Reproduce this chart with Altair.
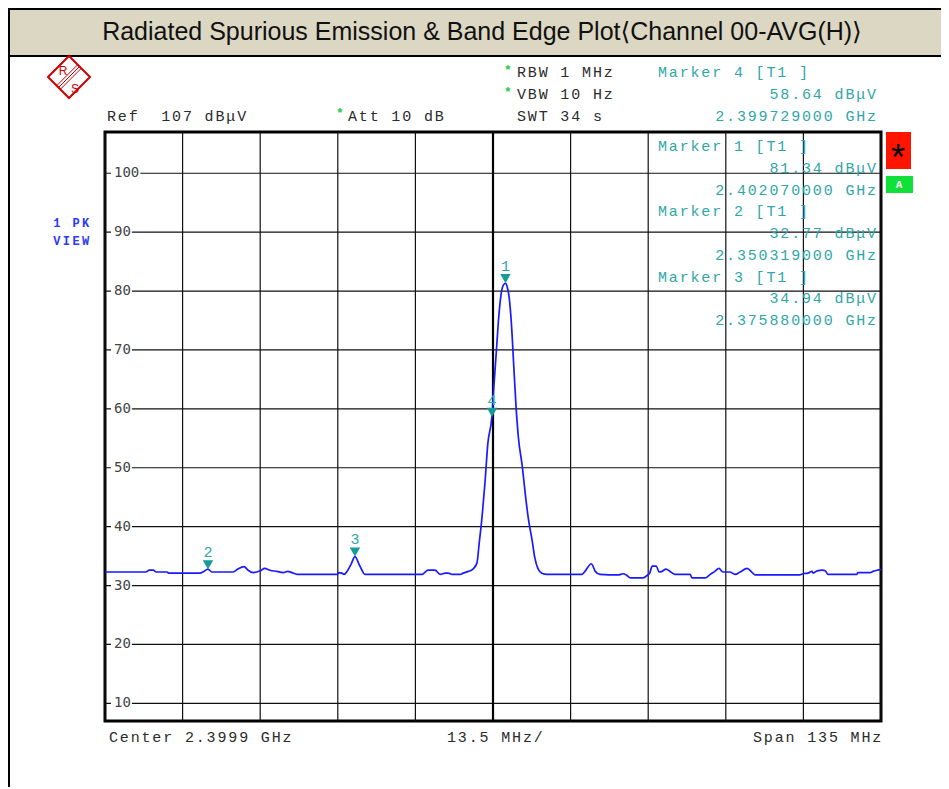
import altair as alt
import pandas as pd

# ---------------- values ----------------
TITLE = "Radiated Spurious Emission & Band Edge Plot⟨Channel 00-AVG(H)⟩"

FREQ_MHZ = [
    2332.4, 2339.5, 2340.1, 2340.8, 2341.3, 2343.2, 2343.5, 2348.9, 2349.6, 2350.3,
    2351.0, 2354.7, 2355.5, 2356.6, 2357.3, 2358.2, 2359.4, 2360.2, 2361.1, 2362.3,
    2363.4, 2364.2, 2364.9, 2365.8, 2372.8, 2373.1, 2373.6, 2374.0, 2374.5, 2375.2,
    2375.9, 2376.6, 2377.1, 2377.6, 2387.6, 2387.9, 2388.6, 2389.8, 2390.7, 2391.6,
    2392.1, 2392.8, 2394.2, 2394.7, 2395.6, 2396.4, 2397.1, 2397.5, 2398.0, 2398.5,
    2399.0, 2399.7, 2400.1, 2400.5, 2400.9, 2401.3, 2401.7, 2402.1, 2402.4, 2402.7,
    2403.1, 2403.5, 2403.9, 2404.3, 2405.0, 2405.5, 2406.0, 2406.7, 2407.2, 2407.7,
    2408.4, 2409.3, 2415.4, 2415.9,
    2417.0, 2417.7, 2418.5, 2421.7, 2422.5, 2423.1, 2423.8, 2426.0, 2426.7, 2427.2,
    2427.6, 2428.3, 2428.8, 2429.3, 2430.0, 2430.7, 2431.6, 2434.2, 2434.5, 2436.8,
    2437.7, 2438.5, 2439.2, 2439.9, 2441.1, 2442.0, 2442.9, 2444.1, 2445.0, 2445.5,
    2453.3, 2453.8, 2454.7, 2455.4, 2455.6, 2456.3, 2457.2, 2457.7, 2458.2, 2463.2,
    2463.4, 2465.5, 2466.0, 2466.7, 2467.4,
]
LEVEL_DBUV = [
    32.3, 32.3, 32.6, 32.6, 32.3, 32.3, 32.1, 32.1, 32.4, 32.8,
    32.3, 32.3, 32.8, 33.2, 32.6, 32.2, 32.5, 32.9, 32.6, 32.4,
    32.2, 32.4, 32.2, 31.9, 31.9, 32.2, 32.1, 31.9, 32.4, 33.6,
    34.9, 33.6, 32.6, 31.9, 31.9, 32.1, 32.6, 32.6, 31.9, 32.1,
    32.1, 31.9, 31.9, 32.1, 32.4, 32.8, 33.8, 37.2, 41.7, 47.4,
    54.1, 58.6, 64.5, 70.0, 75.6, 79.4, 81.0, 81.3, 80.6, 79.0,
    74.5, 67.5, 60.5, 55.3, 50.2, 45.7, 41.7, 37.7, 34.6, 32.9,
    32.1, 31.9, 31.9, 32.4,
    33.7, 32.4, 31.9, 31.8, 32.0, 31.8, 31.3, 31.3, 31.7, 32.2,
    33.3, 33.3, 32.3, 32.4, 32.8, 32.4, 31.9, 31.9, 31.3, 31.3,
    31.9, 32.4, 32.9, 32.3, 32.3, 31.9, 32.3, 32.9, 32.2, 31.8,
    31.8, 32.0, 32.1, 32.4, 32.1, 32.5, 32.6, 32.5, 31.9, 31.9,
    32.2, 32.2, 32.4, 32.6, 32.7,
]

MARKER_ID = [1, 2, 3, 4]
MARKER_FREQ_GHZ = [2.402070, 2.350319, 2.375880, 2.399729]
MARKER_LEVEL_DBUV = [81.34, 32.77, 34.94, 58.64]

Y_GRID = [10, 20, 30, 40, 50, 60, 70, 80, 90, 100]
REF_LEVEL = 107
CENTER_GHZ = 2.3999
SPAN_MHZ = 135
RBW = "1 MHz"
VBW = "10 Hz"
SWT = "34 s"
ATT = "10 dB"

# ---------------- derived ----------------
X_LO = CENTER_GHZ * 1000 - SPAN_MHZ / 2
X_HI = CENTER_GHZ * 1000 + SPAN_MHZ / 2
X_GRID = [X_LO + SPAN_MHZ / 10 * k for k in range(11)]
Y_LO = REF_LEVEL - 100

W, H = 776, 589
OX, OY = 105, 132          # page position of plot origin
PITCH = 10.85

DARK = "#2b2b2b"
TEAL = "#2fa7a7"
TEAL_M = "#169a9a"
BLUE = "#1a1aff"
GREEN = "#22cc44"

xs = alt.Scale(domain=[X_LO, X_HI], nice=False, zero=False)
ys = alt.Scale(domain=[Y_LO, REF_LEVEL], nice=False, zero=False)

trace = pd.DataFrame({"f": FREQ_MHZ, "lvl": LEVEL_DBUV})
markers = pd.DataFrame({"id": [str(i) for i in MARKER_ID],
                        "f": [g * 1000 for g in MARKER_FREQ_GHZ],
                        "lvl": MARKER_LEVEL_DBUV})

# ---------------- fixed-pitch text ----------------
chars = []


def put(s, x, y, color, right=False, pitch=PITCH, group="main"):
    x0 = x - len(s) * pitch if right else x
    for i, c in enumerate(s):
        if c != " ":
            chars.append(dict(ch=c, px=x0 + (i + 0.5) * pitch - OX, py=y - OY,
                              col=color, g=group))


put(f"RBW {RBW}", 516, 72, DARK)
put(f"VBW {VBW}", 516, 94, DARK)
put(f"SWT {SWT}", 516, 116, DARK)
put(f"Ref  {REF_LEVEL} dBμV", 106, 116, DARK)
put(f"Att {ATT}", 347, 116, DARK)
put(f"Center {CENTER_GHZ} GHz", 108, 737, DARK)
put(f"{SPAN_MHZ / 10} MHz/", 446, 737, DARK)
put(f"Span {SPAN_MHZ} MHz", 752, 737, DARK)


def readout(k, ys3):
    put(f"Marker {MARKER_ID[k]} [T1 ]", 657, ys3[0], TEAL)
    put(f"{MARKER_LEVEL_DBUV[k]:.2f} dBμV", 877, ys3[1], TEAL, right=True)
    put(f"{MARKER_FREQ_GHZ[k]:.9f} GHz", 877, ys3[2], TEAL, right=True)


readout(3, [72, 94, 116])
rows = [146 + 21.75 * i for i in range(9)]
readout(0, rows[0:3])
readout(1, rows[3:6])
readout(2, rows[6:9])

put("1 PK", 52, 223, "#2a3af0", pitch=9.6, group="bold")
put("VIEW", 52, 241, "#2a3af0", pitch=9.6, group="bold")

chars_df = pd.DataFrame(chars)

# ---------------- layers ----------------
one = pd.DataFrame({"k": [0]})

vgrid = alt.Chart(pd.DataFrame({"g": X_GRID})).mark_rule(
    color="#111111", strokeWidth=1.2
).encode(x=alt.X("g:Q", scale=xs, axis=None), y=alt.value(0), y2=alt.value(H))

hgrid = alt.Chart(pd.DataFrame({"g": Y_GRID})).mark_rule(
    color="#111111", strokeWidth=1.2
).encode(y=alt.Y("g:Q", scale=ys, axis=None), x=alt.value(0), x2=alt.value(W))

center_rule = alt.Chart(pd.DataFrame({"c": [CENTER_GHZ * 1000]})).mark_rule(
    color="#000000", strokeWidth=2.2
).encode(x=alt.X("c:Q", scale=xs, axis=None), y=alt.value(0), y2=alt.value(H))

ylab_df = pd.DataFrame({"v": Y_GRID, "lab": [str(v) for v in Y_GRID]})
ylab_bg = alt.Chart(ylab_df).transform_calculate(
    lo="datum.v - 1.0", hi="datum.v + 1.0", xs0="6",
    xe="9 + 8.45 * length(datum.lab) + 1"
).mark_rect(color="white").encode(
    x=alt.X("xs0:Q", scale=None), x2="xe:Q",
    y=alt.Y("lo:Q", scale=ys, axis=None), y2="hi:Q",
)
ylab = alt.Chart(ylab_df).mark_text(
    font="DejaVu Sans Mono", fontSize=14, color="#444444", align="left",
    baseline="middle"
).encode(x=alt.value(9), y=alt.Y("v:Q", scale=ys, axis=None), text="lab:N")

line = alt.Chart(trace).mark_line(
    color=BLUE, strokeWidth=1.7, interpolate="monotone"
).encode(
    x=alt.X("f:Q", scale=xs, axis=None), y=alt.Y("lvl:Q", scale=ys, axis=None)
)

mk = alt.Chart(markers).mark_point(
    shape="triangle-down", filled=True, size=110, color=TEAL_M, opacity=1, yOffset=-4.5
).encode(x=alt.X("f:Q", scale=xs, axis=None), y=alt.Y("lvl:Q", scale=ys, axis=None))

mk_lab = alt.Chart(markers).mark_text(
    font="Liberation Mono", fontSize=15, color=TEAL, dy=-17, baseline="middle"
).encode(x=alt.X("f:Q", scale=xs, axis=None), y=alt.Y("lvl:Q", scale=ys, axis=None),
         text="id:N")

txt = alt.Chart(chars_df).transform_filter("datum.g == 'main'").mark_text(
    font="Liberation Mono", fontSize=15, align="center", baseline="middle"
).encode(x=alt.X("px:Q", scale=None), y=alt.Y("py:Q", scale=None), text="ch:N",
         color=alt.Color("col:N", scale=None))

txt_b = alt.Chart(chars_df).transform_filter("datum.g == 'bold'").mark_text(
    font="Liberation Mono", fontSize=12, fontWeight="bold", align="center",
    baseline="middle"
).encode(x=alt.X("px:Q", scale=None), y=alt.Y("py:Q", scale=None), text="ch:N",
         color=alt.Color("col:N", scale=None))

stars = alt.Chart(pd.DataFrame({"px": [508 - OX, 508 - OX, 340 - OX],
                                "py": [70 - OY, 92 - OY, 113 - OY]})).mark_text(
    text="*", font="Liberation Mono", fontSize=13, fontWeight="bold", color=GREEN,
    baseline="middle"
).encode(x=alt.X("px:Q", scale=None), y=alt.Y("py:Q", scale=None))

# frame decorations
title_bar = alt.Chart(one).mark_rect(fill="#dcd7c3", stroke="#000000", strokeWidth=2).encode(
    x=alt.value(9 - OX), x2=alt.value(950 - OX), y=alt.value(9 - OY), y2=alt.value(56 - OY)
)
left_border = alt.Chart(one).mark_rule(color="#000000", strokeWidth=2).encode(
    x=alt.value(9 - OX), y=alt.value(9 - OY), y2=alt.value(800 - OY)
)
title = alt.Chart(one).mark_text(
    text=TITLE, font="Liberation Sans, DejaVu Sans", fontSize=25, color="#111111",
    align="center", baseline="middle"
).encode(x=alt.value(482 - OX), y=alt.value(32 - OY))

boxes = alt.Chart(pd.DataFrame({
    "x": [886 - OX, 886 - OX], "x2": [911 - OX, 913 - OX],
    "y": [132 - OY, 176 - OY], "y2": [169 - OY, 193 - OY],
    "c": ["#ff1400", "#11e03a"]})).mark_rect().encode(
    x=alt.X("x:Q", scale=None), x2="x2:Q", y=alt.Y("y:Q", scale=None), y2="y2:Q",
    color=alt.Color("c:N", scale=None)
)
star_big = alt.Chart(one).mark_text(
    text="*", font="Liberation Sans", fontSize=36, color="#000000", baseline="middle"
).encode(x=alt.value(898 - OX), y=alt.value(159 - OY))
a_lab = alt.Chart(one).mark_text(
    text="A", font="Liberation Mono", fontSize=11, fontWeight="bold", color="white",
    baseline="middle"
).encode(x=alt.value(899 - OX), y=alt.value(185 - OY))

# R&S logo
logo_d = alt.Chart(one).mark_point(
    shape="diamond", size=1764, filled=False, color="#cc0000", strokeWidth=2, opacity=1
).encode(x=alt.value(69 - OX), y=alt.value(77 - OY))
stripes = alt.Chart(pd.DataFrame({
    "x": [79.5 - OX, 81.3 - OX, 77.7 - OX], "y": [66.5 - OY, 68.3 - OY, 64.7 - OY],
    "x2": [58.5 - OX, 60.3 - OX, 56.7 - OX], "y2": [87.5 - OY, 89.3 - OY, 85.7 - OY]
})).mark_rule(color="#cc0000", strokeWidth=1).encode(
    x=alt.X("x:Q", scale=None), x2="x2:Q", y=alt.Y("y:Q", scale=None), y2="y2:Q"
)
logo_t = alt.Chart(pd.DataFrame({"t": ["R", "S"], "px": [63 - OX, 75 - OX],
                                 "py": [71 - OY, 89 - OY]})).mark_text(
    font="Liberation Sans", fontSize=12, color="#cc0000", baseline="middle"
).encode(x=alt.X("px:Q", scale=None), y=alt.Y("py:Q", scale=None), text="t:N")

chart = alt.layer(
    title_bar, left_border, title, logo_d, stripes, logo_t,
    vgrid, hgrid, center_rule, ylab_bg, ylab, line, mk, mk_lab, txt, txt_b, stars,
    boxes, star_big, a_lab
).properties(
    width=W, height=H,
    autosize=alt.AutoSizeParams(type="none"),
    padding={"left": 97, "top": 124, "right": 60, "bottom": 66},
    background="white",
).configure_view(
    stroke="#000000", strokeWidth=3
)

chart.save("out.html", embed_options={"renderer": "svg", "actions": False})
